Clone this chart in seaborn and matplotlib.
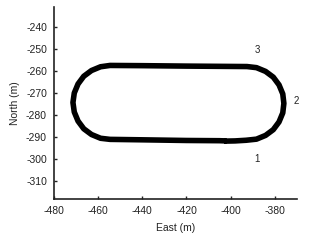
import matplotlib
matplotlib.use("Agg")
import matplotlib.pyplot as plt
import seaborn as sns
import pandas as pd

# Track coordinates (East, North in metres)
east = [-403.0, -398.0, -393.0,
        -388.3, -384.2, -380.7, -378.1, -376.4, -375.9, -376.4, -378.1, -380.7, -384.2, -388.3, -392.6,
        -420.0, -440.0, -454.6,
        -458.9, -463.0, -466.5, -469.1, -470.8, -471.4, -470.8, -469.1, -466.5, -463.0, -458.9, -454.6,
        -440.0, -420.0, -405.0, -402.0]
north = [-291.8, -291.7, -291.4,
         -290.9, -289.2, -286.6, -283.1, -279.0, -274.7, -270.4, -266.3, -262.8, -260.2, -258.5, -258.0,
         -257.8, -257.6, -257.5,
         -258.1, -259.8, -262.4, -265.9, -270.0, -274.3, -278.6, -282.7, -286.2, -288.8, -290.5, -291.0,
         -291.2, -291.5, -291.6, -291.7]

marker_labels = ["1", "2", "3"]
marker_east = [-388.0, -370.2, -388.0]
marker_north = [-300.0, -273.6, -250.5]

x_ticks = [-480, -460, -440, -420, -400, -380]
y_ticks = [-240, -250, -260, -270, -280, -290, -300, -310]

sns.set_style("ticks")
plt.rcParams["font.family"] = ["Liberation Sans", "DejaVu Sans"]
plt.rcParams["axes.unicode_minus"] = False

df = pd.DataFrame({"East": east, "North": north})

fig = plt.figure(figsize=(3.31, 2.40), dpi=100)
ax = fig.add_axes([0.163, 0.171, 0.734, 0.800])

sns.lineplot(data=df, x="East", y="North", sort=False, estimator=None,
             color="black", linewidth=4.0, ax=ax, solid_capstyle="butt",
             solid_joinstyle="round")

for lab, ex, no in zip(marker_labels, marker_east, marker_north):
    ax.text(ex, no, lab, fontsize=7, color="#222222", ha="center", va="center")

ax.set_xlim(-480, -370)
ax.set_ylim(-318, -231)
ax.set_xticks(x_ticks)
ax.set_yticks(y_ticks)
ax.set_xlabel("East (m)", fontsize=7.5, color="#222222", labelpad=5)
ax.set_ylabel("North (m)", fontsize=7.5, color="#222222", labelpad=4)
ax.tick_params(axis="both", direction="in", length=2, width=1, labelsize=7.5,
               colors="#222222", pad=5)
for s in ["top", "right"]:
    ax.spines[s].set_visible(False)
for s in ["left", "bottom"]:
    ax.spines[s].set_linewidth(1.2)
    ax.spines[s].set_color("#222222")

fig.savefig("out.png", dpi=100)
